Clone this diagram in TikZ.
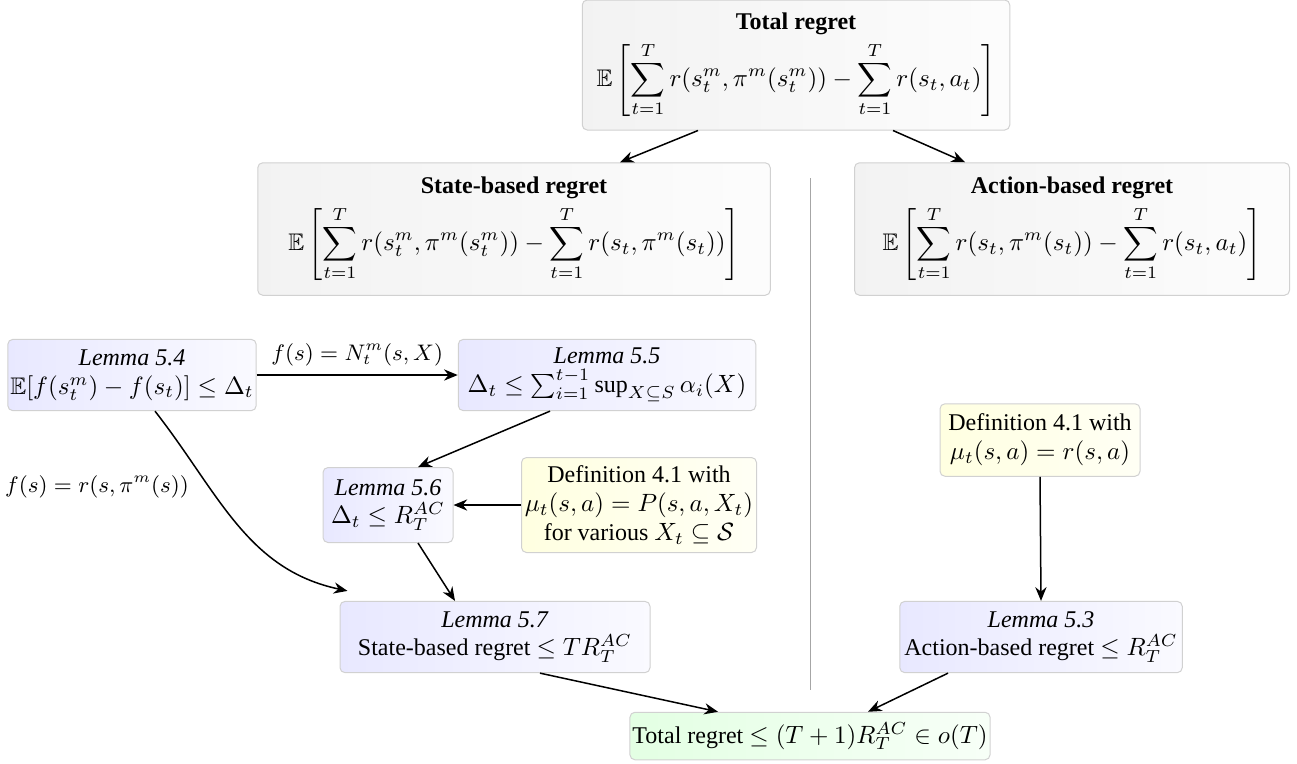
\documentclass[tikz,border=0pt]{standalone}
\usepackage{amsmath,amssymb}
\usepackage{fontspec}
\setmainfont{LiberationSerif-Regular.ttf}[BoldFont=LiberationSerif-Bold.ttf, ItalicFont=LiberationSerif-Italic.ttf, BoldItalicFont=LiberationSerif-BoldItalic.ttf]
\usetikzlibrary{arrows.meta,calc,shadings}
\begin{document}
\begin{tikzpicture}[x=0.4pt,y=-0.4pt,
  box/.style={rounded corners=2pt, draw=black!18, align=center, inner sep=1pt, font=\fontsize{9.6}{11.5}\selectfont},
  graybox/.style={box, left color=black!5, right color=black!1},
  lembox/.style={box, left color=blue!9, right color=blue!2},
  defbox/.style={box, left color=yellow!12, right color=yellow!4},
  finbox/.style={box, left color=green!11, right color=green!3},
  lbl/.style={font=\fontsize{9}{11}\selectfont},
  arr/.style={semithick, -{Stealth[length=5.5pt,width=4.5pt,inset=1.8pt]}}]
\useasboundingbox (0,0) rectangle (1297,763);

\node[graybox, minimum width=171pt, minimum height=52pt] (total) at (796,65)
  {\textbf{Total regret}\\[2pt] $\displaystyle \mathbb{E}\left[\sum_{t=1}^{T} r(s_t^m,\pi^m(s_t^m)) - \sum_{t=1}^{T} r(s_t,a_t)\right]$};
\node[graybox, minimum width=205pt, minimum height=53pt] (state) at (514,229)
  {\textbf{State-based regret}\\[2pt] $\displaystyle \mathbb{E}\left[\sum_{t=1}^{T} r(s_t^m,\pi^m(s_t^m)) - \sum_{t=1}^{T} r(s_t,\pi^m(s_t))\right]$};
\node[graybox, minimum width=174pt, minimum height=53pt] (action) at (1072,229)
  {\textbf{Action-based regret}\\[2pt] $\displaystyle \mathbb{E}\left[\sum_{t=1}^{T} r(s_t,\pi^m(s_t)) - \sum_{t=1}^{T} r(s_t,a_t)\right]$};

\node[lembox, minimum width=99pt, minimum height=28.5pt] (L54) at (132,375)
  {\textit{Lemma 5.4}\\ $\mathbb{E}[f(s_t^m)-f(s_t)]\leq\Delta_t$};
\node[lembox, minimum width=119pt, minimum height=28.5pt] (L55) at (607,375)
  {\textit{Lemma 5.5}\\ $\Delta_t\leq\sum_{i=1}^{t-1}\sup_{X\subseteq S}\alpha_i(X)$};
\node[lembox, minimum width=52pt, minimum height=30pt] (L56) at (388,505)
  {\textit{Lemma 5.6}\\ $\Delta_t\leq R_T^{AC}$};
\node[defbox, minimum width=94pt, minimum height=38pt] (defL) at (639,505)
  {Definition 4.1 with\\ $\mu_t(s,a)=P(s,a,X_t)$\\ for various $X_t\subseteq\mathcal{S}$};
\node[defbox, minimum width=80pt, minimum height=29pt] (defR) at (1040,440)
  {Definition 4.1 with\\ $\mu_t(s,a)=r(s,a)$};
\node[lembox, minimum width=124pt, minimum height=28.5pt] (L57) at (495,637)
  {\textit{Lemma 5.7}\\ State-based regret $\leq T R_T^{AC}$};
\node[lembox, minimum width=113pt, minimum height=28.5pt] (L53) at (1041,637)
  {\textit{Lemma 5.3}\\ Action-based regret $\leq R_T^{AC}$};
\node[finbox, minimum width=142pt, minimum height=19pt] (final) at (810,736)
  {Total regret $\leq (T+1)R_T^{AC}\in o(T)$};

\coordinate (dtop) at (810,178);
\coordinate (dbot) at (810,690);
\draw[black!35, thin] (dtop) -- (dbot);

\draw[arr] ($(total.south)+(-98,0)$) -- ($(state.north)+(106,0)$);
\draw[arr] ($(total.south)+(97,0)$) -- ($(action.north)+(-107,0)$);
\draw[arr] (L54.east) -- node[above, lbl] {$f(s)=N_t^m(s,X)$} (L55.west);
\draw[arr] ($(L55.south)+(-57,0)$) -- ($(L56.north)+(30,0)$);
\draw[arr] (defL.west) -- (L56.east);
\draw[arr] ($(L56.south)+(30,0)$) -- ($(L57.north)+(-40,0)$);
\draw[arr] ($(L54.south)+(23,0)$) to[out=-52, in=168]
  node[pos=0.3, anchor=east, xshift=-3pt, yshift=-2pt, lbl] {$f(s)=r(s,\pi^m(s))$} ($(L57.north west)+(8,-10)$);
\draw[arr] (defR.south) -- (L53.north);
\draw[arr] ($(L57.south)+(45,0)$) -- ($(final.north)+(-92,0)$);
\draw[arr] ($(L53.south)+(-93,0)$) -- ($(final.north)+(58,0)$);
\end{tikzpicture}
\end{document}
